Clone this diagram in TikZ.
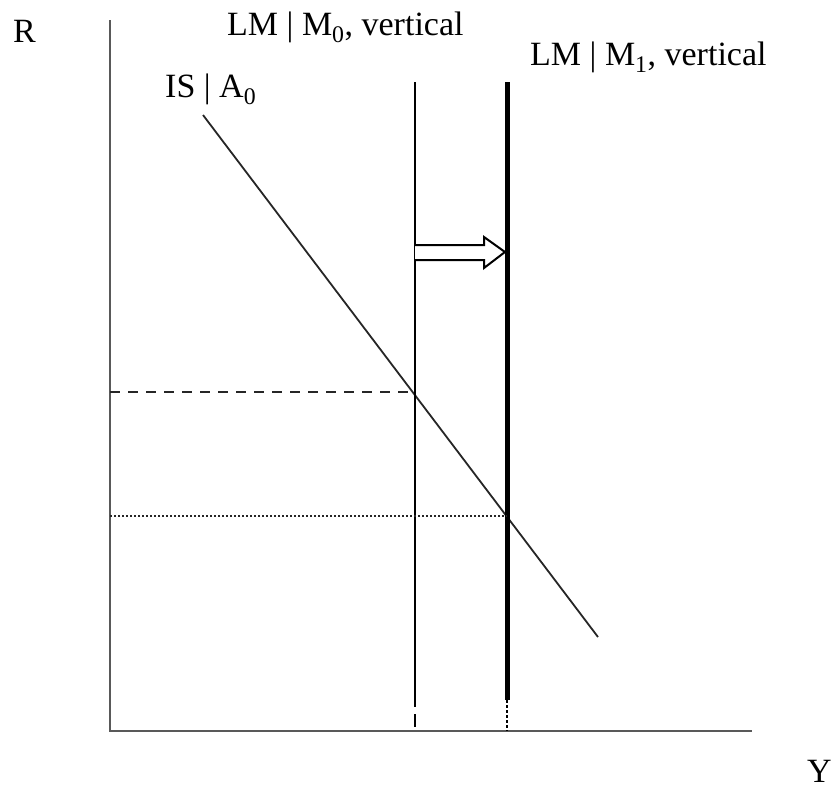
\documentclass[tikz,border=0pt]{standalone}
\usepackage{fontspec}
\setmainfont{Liberation Serif}

\begin{document}
\begin{tikzpicture}[x=1pt, y=-1pt,
		axis/.style={black!65, line width=2.4pt},
		line/.style={black, line width=2pt},
		thickline/.style={black, line width=5pt},
		lab/.style={anchor=base west, inner sep=0pt, font=\fontsize{34}{40}\selectfont}
		]
		\useasboundingbox (0,0) rectangle (836,788);
		
		% axes
		\coordinate (O) at (110,731);
		\coordinate (Rtop) at (110,20);
		\coordinate (Yend) at (752,731);
		
		% IS curve
		\coordinate (IS1) at (203,115);
		\coordinate (IS2) at (598,637);
		
		% LM curves
		\coordinate (L0top) at (415,82);
		\coordinate (L0bot) at (415,707);
		\coordinate (L0a) at (415,714);
		\coordinate (L0b) at (415,727);
		\coordinate (L1top) at (507,82);
		\coordinate (L1bot) at (507,700);
		\coordinate (L1end) at (507,731);
		
		% equilibria
		\coordinate (E0) at (415,392);
		\coordinate (E1) at (507,516);
		\coordinate (R0) at (110,392);
		\coordinate (R1) at (110,516);
		
		% draw axes
		\draw[axis] (Rtop) -- (O) -- (Yend);
		
		% draw curves
		\draw[line, black!85, line width=1.8pt] (IS1) -- (IS2);
		\draw[line] (L0top) -- (L0bot);
		\draw[line] (L0a) -- (L0b);
		\draw[thickline] (L1top) -- (L1bot);
		\draw[black, line width=2.5pt, dash pattern=on 2.5pt off 2.5pt] (L1bot) -- (L1end);
		
		% guide lines
		\draw[black!85, line width=2pt, dash pattern=on 10pt off 8pt] (R0) -- (E0);
		\draw[black!85, line width=1.8pt, dash pattern=on 2pt off 2pt] (R1) -- (E1);
		
		% shift arrow
		\draw[line, fill=white, line width=2pt] (415,245) -- (484,245) -- (484,237) -- (505,252)
			-- (484,268) -- (484,260) -- (415,260);
		
		% labels
		\node[lab] (R) at (13,42) {R};
		\node[lab] (Y) at (807,782) {Y};
		\node[lab] (IS) at (165,97) {IS | A\textsubscript{0}};
		\node[lab] (LM0) at (227,35) {LM | M\textsubscript{0}, vertical};
		\node[lab] (LM1) at (530,65) {LM | M\textsubscript{1}, vertical};
		
	\end{tikzpicture}
\end{document}
